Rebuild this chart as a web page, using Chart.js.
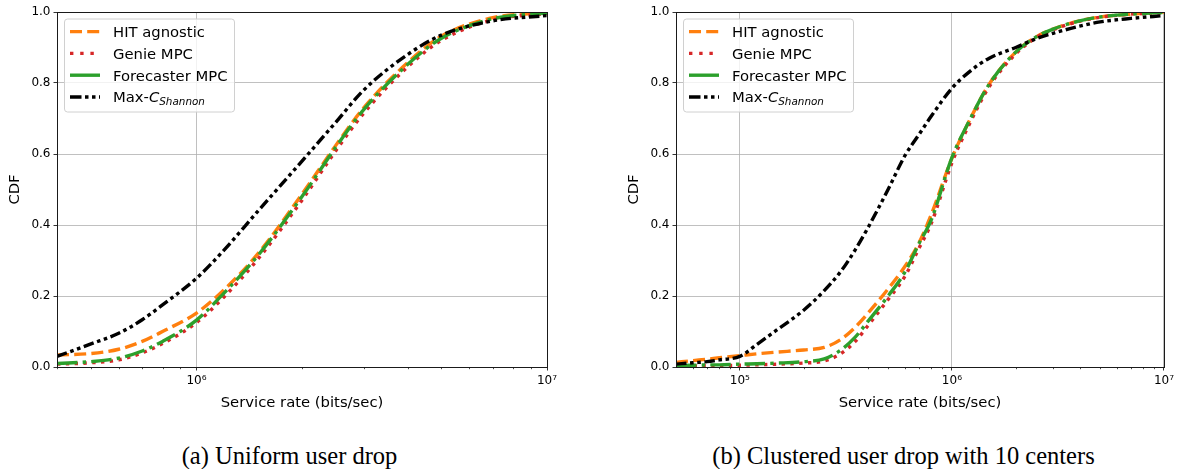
<!DOCTYPE html>
<html><head><meta charset="utf-8">
<script src="https://cdn.jsdelivr.net/npm/chart.js@4.4.1/dist/chart.umd.min.js"></script>
<style>
html,body{margin:0;padding:0;background:#fff;}
#wrap{position:relative;width:1177px;height:469px;overflow:hidden;background:#fff;}
canvas{position:absolute;top:0;}
#cA{left:0;} #cB{left:619px;}
.cap{position:absolute;top:442px;line-height:28px;font-family:"Liberation Serif","Times New Roman",serif;font-size:24.5px;color:#000;white-space:nowrap;transform:translateX(-50%);}
</style></head><body>
<div id="wrap">
<canvas id="cA" width="600" height="420"></canvas>
<canvas id="cB" width="558" height="420"></canvas>
<div class="cap" style="left:289.5px">(a) Uniform user drop</div>
<div class="cap" style="left:903.5px">(b) Clustered user drop with 10 centers</div>
</div>
<script>
// ---------- data ----------
const seriesLabels = ['HIT agnostic', 'Genie MPC', 'Forecaster MPC', 'Max-C_Shannon'];
const xTitle = 'Service rate (bits/sec)';
const yTitle = 'CDF';
const yTicks = [0, 0.2, 0.4, 0.6, 0.8, 1.0];

// (a) Uniform user drop
const ratesA = [4e5, 5e5, 6e5, 7e5, 8e5, 1e6, 1.2e6, 1.5e6, 2e6, 2.5e6, 3e6, 4e6, 5e6, 7e6, 1e7];
const hitA   = [0.034, 0.038, 0.050, 0.072, 0.100, 0.152, 0.218, 0.320, 0.487, 0.625, 0.730, 0.857, 0.932, 0.984, 0.998];
const genieA = [0.008, 0.012, 0.020, 0.040, 0.066, 0.125, 0.198, 0.305, 0.470, 0.610, 0.715, 0.845, 0.920, 0.978, 0.995];
const fcstA  = [0.010, 0.015, 0.025, 0.045, 0.072, 0.132, 0.209, 0.315, 0.480, 0.620, 0.725, 0.852, 0.926, 0.981, 0.997];
const maxcA  = [0.030, 0.065, 0.095, 0.133, 0.175, 0.250, 0.330, 0.440, 0.580, 0.690, 0.780, 0.880, 0.935, 0.975, 0.990];
const xMinA = 4e5, xMaxA = 1e7;
const xMajorA = [1e6, 1e7];
const xMinorA = [4e5, 5e5, 6e5, 7e5, 8e5, 9e5, 2e6, 3e6, 4e6, 5e6, 6e6, 7e6, 8e6, 9e6];

// (b) Clustered user drop with 10 centers
const ratesB = [5e4, 6e4, 7e4, 8e4, 1e5, 1.2e5, 1.5e5, 2e5, 2.5e5, 3e5, 3.5e5, 4e5, 5e5, 6e5, 7e5, 8e5, 1e6, 1.2e6, 1.5e6, 2e6, 2.5e6, 3e6, 4e6, 5e6, 7e6, 1e7];
const hitB   = [0.013, 0.018, 0.022, 0.026, 0.032, 0.037, 0.042, 0.048, 0.055, 0.078, 0.112, 0.150, 0.220, 0.283, 0.350, 0.430, 0.588, 0.690, 0.797, 0.887, 0.930, 0.952, 0.975, 0.986, 0.994, 1.000];
const genieB = [0.003, 0.003, 0.004, 0.004, 0.005, 0.006, 0.008, 0.011, 0.017, 0.038, 0.072, 0.115, 0.190, 0.255, 0.335, 0.405, 0.575, 0.680, 0.790, 0.882, 0.928, 0.950, 0.974, 0.985, 0.994, 0.998];
const fcstB  = [0.004, 0.005, 0.006, 0.006, 0.008, 0.009, 0.011, 0.015, 0.023, 0.048, 0.084, 0.127, 0.200, 0.267, 0.348, 0.415, 0.590, 0.690, 0.797, 0.887, 0.930, 0.952, 0.975, 0.986, 0.994, 0.999];
const maxcB  = [0.008, 0.012, 0.015, 0.020, 0.030, 0.063, 0.105, 0.160, 0.215, 0.270, 0.330, 0.390, 0.500, 0.595, 0.655, 0.707, 0.785, 0.830, 0.870, 0.900, 0.925, 0.940, 0.960, 0.972, 0.982, 0.990];
const xMinB = 5e4, xMaxB = 1e7;
const xMajorB = [1e5, 1e6, 1e7];
const xMinorB = [6e4, 7e4, 8e4, 9e4, 2e5, 3e5, 4e5, 5e5, 6e5, 7e5, 8e5, 9e5, 2e6, 3e6, 4e6, 5e6, 6e6, 7e6, 8e6, 9e6];

// ---------- styles ----------
const COLORS = ['#ff7f0e', '#d62728', '#2ca02c', '#000000'];
const DASHES = [[12, 5.2], [3.4, 5.4], [20.5, 5.2, 3.4, 5.2], [10.5, 3.6, 3.6, 3.6, 3.6, 3.6]];
const LEGEND_DASHES = [[12, 5.2], [3.4, 6.8], [], [11.5, 3.5, 3.5, 3.5, 3.5, 3.5]];
const ORDERS = [4, 3, 2, 1];
const FONT = 'DejaVu Sans';
const SUP = '⁰¹²³⁴⁵⁶⁷⁸⁹';
const sup = n => String(n).split('').map(d => SUP[+d]).join('');

function makeDatasets(rates, seriesList) {
  return seriesList.map((vals, i) => ({
    label: seriesLabels[i],
    data: rates.map((r, k) => ({x: r, y: vals[k]})),
    borderColor: COLORS[i],
    backgroundColor: COLORS[i],
    borderWidth: 3.4,
    borderDash: DASHES[i],
    borderCapStyle: 'butt',
    borderJoinStyle: 'round',
    legendDash: LEGEND_DASHES[i],
    pointRadius: 0,
    pointHoverRadius: 0,
    fill: false,
    cubicInterpolationMode: 'monotone',
    order: ORDERS[i]
  }));
}

const framePlugin = {
  id: 'frame',
  afterDraw(chart, args, opts) {
    const {ctx, chartArea: a, scales} = chart;
    ctx.save();
    // minor ticks
    ctx.strokeStyle = '#000';
    ctx.lineWidth = 0.7;
    ctx.setLineDash([]);
    (opts.minor || []).forEach(v => {
      const px = Math.round(scales.x.getPixelForValue(v)) + 0.5;
      ctx.beginPath();
      ctx.moveTo(px, a.bottom);
      ctx.lineTo(px, a.bottom + 2.2);
      ctx.stroke();
    });
    // spines
    ctx.lineWidth = 1;
    ctx.strokeStyle = '#1a1a1a';
    ctx.strokeRect(Math.round(a.left) + 0.5, Math.round(a.top) + 0.5,
                   Math.round(a.right) - Math.round(a.left), Math.round(a.bottom) - Math.round(a.top));
    // legend
    const bx = a.left + 7.5, by = a.top + 7, bw = 170, bh = 93, r = 3;
    ctx.beginPath();
    ctx.moveTo(bx + r, by);
    ctx.lineTo(bx + bw - r, by); ctx.quadraticCurveTo(bx + bw, by, bx + bw, by + r);
    ctx.lineTo(bx + bw, by + bh - r); ctx.quadraticCurveTo(bx + bw, by + bh, bx + bw - r, by + bh);
    ctx.lineTo(bx + r, by + bh); ctx.quadraticCurveTo(bx, by + bh, bx, by + bh - r);
    ctx.lineTo(bx, by + r); ctx.quadraticCurveTo(bx, by, bx + r, by);
    ctx.closePath();
    ctx.fillStyle = 'rgba(255,255,255,0.8)';
    ctx.fill();
    ctx.strokeStyle = '#d0d0d0';
    ctx.lineWidth = 1;
    ctx.stroke();
    const fs = 14.8;
    chart.data.datasets.forEach((ds, i) => {
      const cy = by + 12.6 + i * 21.8;
      ctx.save();
      ctx.strokeStyle = ds.borderColor;
      ctx.lineWidth = ds.borderWidth;
      ctx.lineCap = 'butt';
      ctx.setLineDash(ds.legendDash || []);
      ctx.beginPath();
      ctx.moveTo(a.left + 13, cy);
      ctx.lineTo(a.left + 43, cy);
      ctx.stroke();
      ctx.restore();
      ctx.fillStyle = '#000';
      ctx.textBaseline = 'alphabetic';
      ctx.textAlign = 'left';
      const tx = a.left + 56, ty = cy + 5.4;
      const parts = ds.label.split('_');
      if (parts.length === 2) {
        const pre = parts[0].slice(0, -1), mathC = parts[0].slice(-1);
        ctx.font = fs + 'px "' + FONT + '"';
        ctx.fillText(pre, tx, ty);
        let x2 = tx + ctx.measureText(pre).width;
        ctx.font = 'italic ' + fs + 'px "' + FONT + '"';
        ctx.fillText(mathC, x2, ty);
        x2 += ctx.measureText(mathC).width;
        ctx.font = 'italic 10.4px "' + FONT + '"';
        ctx.fillText(parts[1], x2, ty + 3);
      } else {
        ctx.font = fs + 'px "' + FONT + '"';
        ctx.fillText(ds.label, tx, ty);
      }
    });
    ctx.restore();
  }
};

function makeChart(id, rates, seriesList, xMin, xMax, majors, minors, rightPad) {
  return new Chart(document.getElementById(id), {
    type: 'line',
    data: {datasets: makeDatasets(rates, seriesList)},
    options: {
      responsive: false,
      animation: false,
      devicePixelRatio: 1,
      layout: {padding: {left: 0, top: 12, right: rightPad, bottom: 0}},
      plugins: {legend: {display: false}, tooltip: {enabled: false}, frame: {minor: minors}},
      events: [],
      scales: {
        x: {
          type: 'logarithmic',
          min: xMin, max: xMax,
          afterBuildTicks: s => { s.ticks = majors.map(v => ({value: v, major: true})); },
          afterFit: s => { s.height = 53; },
          ticks: {
            autoSkip: false, maxRotation: 0, minRotation: 0, padding: 3,
            color: '#000', font: {family: FONT, size: 12},
            callback: v => '10' + sup(Math.round(Math.log10(v)))
          },
          grid: {color: '#b0b0b0', lineWidth: 0.8, drawTicks: true, tickLength: 3.5, tickColor: '#000', tickWidth: 0.8},
          border: {display: false},
          title: {display: true, text: xTitle, color: '#000', font: {family: FONT, size: 14.8}, padding: {top: 0, bottom: 8}}
        },
        y: {
          min: 0, max: 1,
          afterBuildTicks: s => { s.ticks = yTicks.map(v => ({value: v})); },
          afterFit: s => { s.width = 57; },
          ticks: {color: '#000', font: {family: FONT, size: 12}, padding: 3, callback: v => Number(v).toFixed(1)},
          grid: {color: '#b0b0b0', lineWidth: 0.8, drawTicks: true, tickLength: 3.5, tickColor: '#000', tickWidth: 0.8},
          border: {display: false},
          title: {display: true, text: yTitle, color: '#000', font: {family: FONT, size: 14.8}, padding: {top: 6, bottom: 0}}
        }
      }
    },
    plugins: [framePlugin]
  });
}

makeChart('cA', ratesA, [hitA, genieA, fcstA, maxcA], xMinA, xMaxA, xMajorA, xMinorA, 53);
makeChart('cB', ratesB, [hitB, genieB, fcstB, maxcB], xMinB, xMaxB, xMajorB, xMinorB, 11);
</script>
</body></html>
